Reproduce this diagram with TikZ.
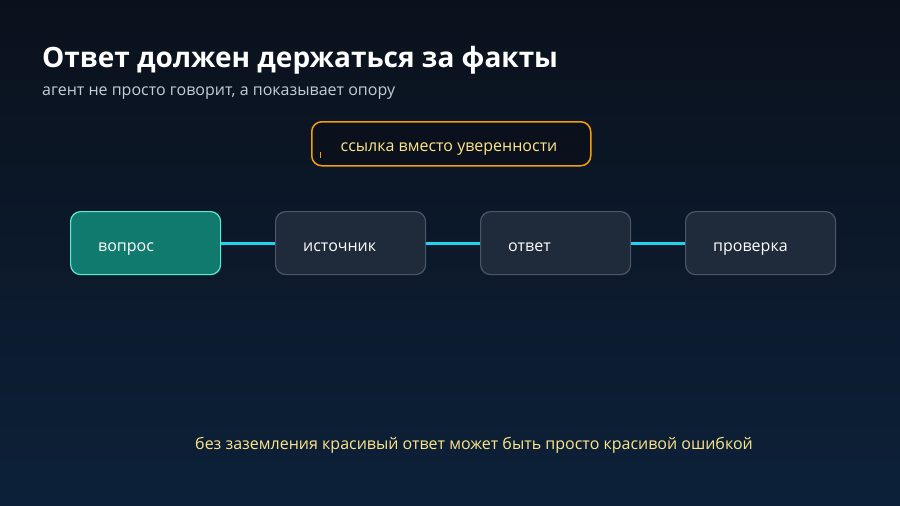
\documentclass[tikz,border=0pt]{standalone}
\usepackage{fontspec}
\setmainfont{Open Sans}
\begin{document}
\begin{tikzpicture}[x=1pt,y=-1pt,
  stepbox/.style={draw=boxline,fill=boxfill,line width=1.2pt,rounded corners=10pt,minimum width=150pt,minimum height=63pt,anchor=north west,inner sep=0pt},
  lbl/.style={text=white,font=\fontsize{16}{18}\selectfont,anchor=base west,inner sep=0pt},
  link/.style={draw=cyanl,line width=3pt}]
\definecolor{bgtop}{HTML}{0B111C}\definecolor{bgbot}{HTML}{0C2139}
\definecolor{boxline}{HTML}{4B5668}\definecolor{boxfill}{HTML}{1F2A3A}
\definecolor{tealf}{HTML}{117A6E}\definecolor{teall}{HTML}{5EEAD4}
\definecolor{cyanl}{HTML}{22D3EE}\definecolor{orng}{HTML}{F59E0B}
\definecolor{ylw}{HTML}{FDE68A}\definecolor{sub}{HTML}{C3CCD8}
\shade[top color=bgtop,bottom color=bgbot] (0,0) rectangle (900,506);
\useasboundingbox (0,0) rectangle (900,506);
\node[anchor=base west,inner sep=0pt,text=white,font=\fontsize{28}{32}\selectfont\bfseries] (title) at (42,67) {Ответ должен держаться за факты};
\node[anchor=base west,inner sep=0pt,text=sub,font=\fontsize{16}{18}\selectfont] (subt) at (42,95) {агент не просто говорит, а показывает опору};
\node[draw=orng,fill=bgtop,line width=1.5pt,rounded corners=10pt,minimum width=279pt,minimum height=44pt,anchor=north west] (top) at (311,121) {};
\node[anchor=base,inner sep=0pt,text=ylw,font=\fontsize{16}{18}\selectfont] (toptext) at (449,151) {ссылка вместо уверенности};
\draw[orng,line width=1pt] (320,152) -- (320,158);
\node[stepbox,draw=teall,fill=tealf] (b1) at (70,211) {};
\node[stepbox] (b2) at (275,211) {};
\node[stepbox] (b3) at (480,211) {};
\node[stepbox] (b4) at (685,211) {};
\draw[link] (b1.east) -- (b2.west);
\draw[link] (b2.east) -- (b3.west);
\draw[link] (b3.east) -- (b4.west);
\node[lbl] (l1) at ([xshift=28pt,yshift=-8pt]b1.west) {вопрос};
\node[lbl] (l2) at ([xshift=28pt,yshift=-8pt]b2.west) {источник};
\node[lbl] (l3) at ([xshift=28pt,yshift=-8pt]b3.west) {ответ};
\node[lbl] (l4) at ([xshift=28pt,yshift=-8pt]b4.west) {проверка};
\node[anchor=base,inner sep=0pt,text=ylw,font=\fontsize{16}{18}\selectfont] (note) at (474,449) {без заземления красивый ответ может быть просто красивой ошибкой};
\end{tikzpicture}
\end{document}
